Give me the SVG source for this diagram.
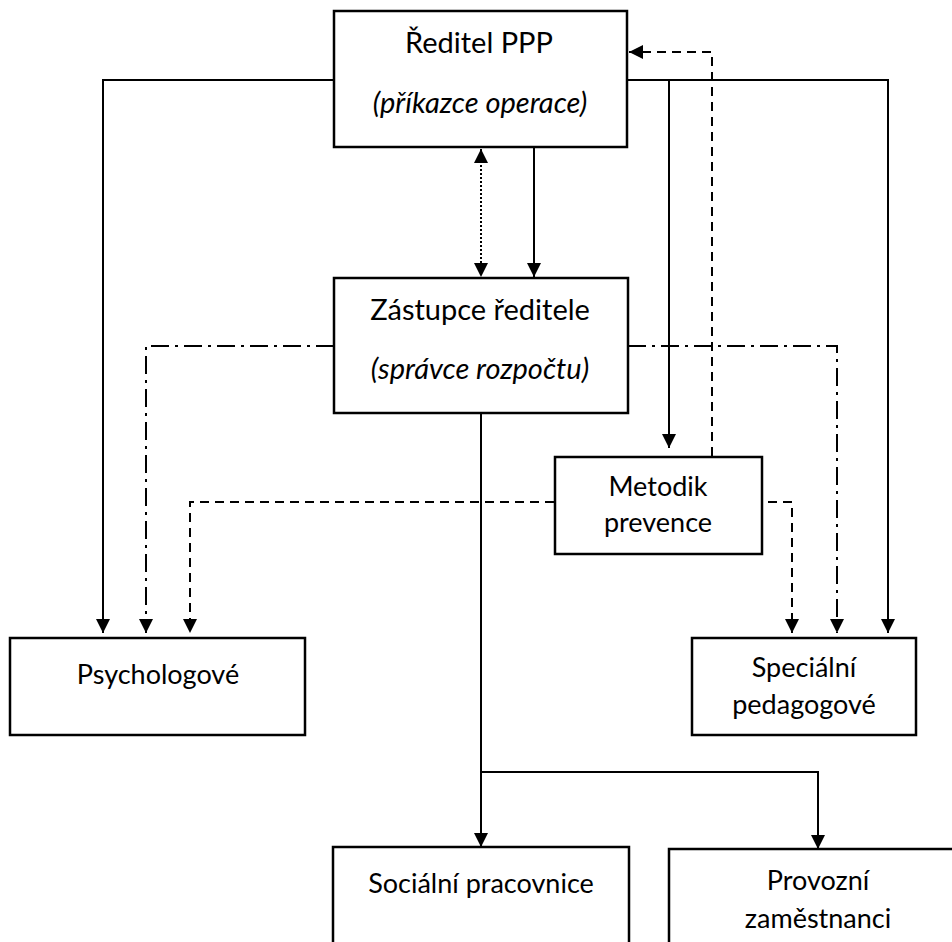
<svg xmlns="http://www.w3.org/2000/svg" width="952" height="942" viewBox="0 0 952 942">
<defs>
<marker id="ah" markerWidth="14" markerHeight="14" refX="14" refY="7" orient="auto-start-reverse" markerUnits="userSpaceOnUse"><path d="M0,0 L14,7 L0,14 z" fill="#000"/></marker>
<style>
.box{fill:#fff;stroke:#000;stroke-width:2.5}
.t{font-family:Lato,"Liberation Sans",sans-serif;font-size:27px;fill:#000;text-anchor:middle}
.big{font-size:29px}
.i{font-style:italic}
.c{fill:none;stroke:#000;stroke-width:2}
.solid{marker-end:url(#ah)}
.dash{stroke-dasharray:9 6;marker-end:url(#ah)}
.dd{stroke-dasharray:18 6 3 6;marker-end:url(#ah)}
.dot{stroke-dasharray:2 2;marker-end:url(#ah);marker-start:url(#ah)}
</style>
</defs>
<rect width="952" height="942" fill="#fff"/>
<g id="connectors">
<path class="c solid" d="M333,80 H103 V633"/>
<path class="c solid" d="M627,80 H888 V633"/>
<path class="c solid" d="M669,80 V448"/>
<path class="c solid" d="M534,148 V277"/>
<path class="c dot" d="M481,149 V277"/>
<path class="c dash" d="M712,456 V52 H629"/>
<path class="c dd" d="M334,346 H146 V633"/>
<path class="c dd" d="M628,346 H837 V633"/>
<path class="c dash" d="M554,502 H190 V633"/>
<path class="c dash" d="M768,502 H792 V633"/>
<path class="c solid" d="M481,393 V847"/>
<path class="c solid" d="M481,772 H818 V849"/>
</g>
<g id="reditel">
<rect class="box" x="334" y="11" width="293" height="136"/>
<text class="t big" x="479" y="53">Ředitel PPP</text>
<text class="t big i" x="480" y="113">(příkazce operace)</text>
</g>
<g id="zastupce">
<rect class="box" x="334" y="278" width="294" height="135"/>
<text class="t big" x="480" y="320">Zástupce ředitele</text>
<text class="t big i" x="480" y="379">(správce rozpočtu)</text>
</g>
<g id="metodik">
<rect class="box" x="555" y="457" width="207" height="97"/>
<text class="t" x="658" y="496">Metodik</text>
<text class="t" x="658" y="532">prevence</text>
</g>
<g id="psychologove">
<rect class="box" x="10" y="638" width="295" height="97"/>
<text class="t" x="158" y="684">Psychologové</text>
</g>
<g id="specialni">
<rect class="box" x="692" y="638" width="224" height="97"/>
<text class="t" x="804" y="677">Speciální</text>
<text class="t" x="804" y="714">pedagogové</text>
</g>
<g id="socialni">
<rect class="box" x="333" y="847" width="296" height="120"/>
<text class="t" x="481" y="893">Sociální pracovnice</text>
</g>
<g id="provozni">
<rect class="box" x="669" y="849" width="300" height="120"/>
<text class="t" x="818" y="890">Provozní</text>
<text class="t" x="818" y="928">zaměstnanci</text>
</g>
</svg>
